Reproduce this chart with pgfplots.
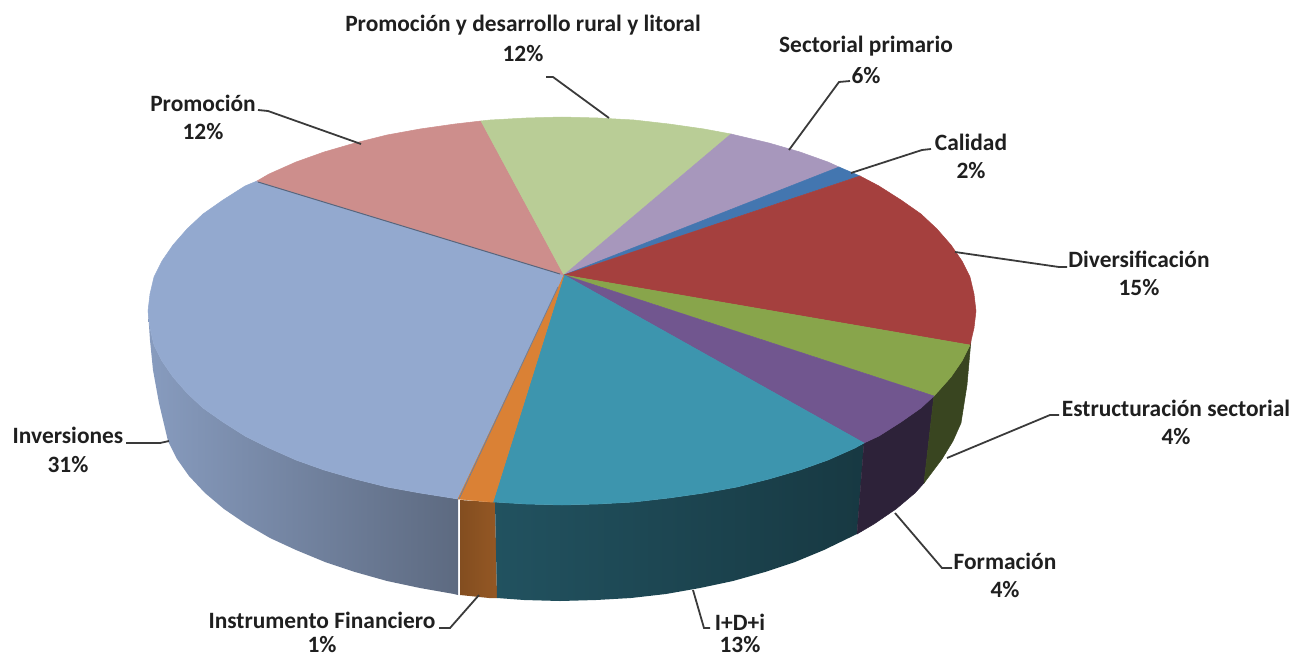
\documentclass[border=0pt]{standalone}
\usepackage{fontspec}
\setmainfont{Carlito}
\usepackage{pgfplots}
\pgfplotsset{compat=1.18}
\definecolor{cInv}{HTML}{93A9CF}
\definecolor{cPro}{HTML}{CD8E8C}
\definecolor{cRur}{HTML}{B9CD96}
\definecolor{cSec}{HTML}{A797BC}
\definecolor{cCal}{HTML}{4376B0}
\definecolor{cDiv}{HTML}{A5403E}
\definecolor{cEst}{HTML}{88A54B}
\definecolor{cFor}{HTML}{71568F}
\definecolor{cIDi}{HTML}{3D95AE}
\definecolor{cIns}{HTML}{DA8135}
\definecolor{lead}{HTML}{3A3A3A}
\newcommand{\lab}[3]{\node[font=\fontsize{23.5}{27}\selectfont\bfseries,text=black!88,align=center,inner sep=0pt] at (axis cs:#1,#2) {#3};}
\begin{document}
\begin{tikzpicture}
\useasboundingbox (0,0) rectangle (1294bp,659bp);
\begin{axis}[at={(0,0)},anchor=south west,scale only axis,width=1294bp,height=659bp,
  xmin=0,xmax=1294,ymin=0,ymax=659,y dir=reverse,hide axis,clip=true,
  every axis plot/.append style={line width=0.5pt}]
% ---- sides
\addplot[left color=cInv!92!black,right color=cInv!62!black!95!gray,draw=none] coordinates {(148,311)(150,340)(153,370)(159,403)(168,441)(177,459)(189,476)(205,493)(224,509)(246,524)(270,538)(296,550)(325,562)(355,572)(387,581)(420,588)(454,594)(458,595)(458,499)(420,493)(387,487)(355,479)(324,470)(296,460)(269,448)(245,436)(223,422)(203,408)(187,393)(173,377)(162,361)(154,345)(150,328)} -- cycle;
\addplot[left color=cIns!60!black,right color=cIns!68!black,draw=none] coordinates {(460,500)(460,595)(489,598)(497,598)(495,502)(490,502)} -- cycle;
\addplot[left color=cIDi!55!black,right color=cIDi!38!black,draw=none] coordinates {(495,502)(497,598)(524,600)(560,601)(596,600)(631,598)(666,594)(700,588)(733,581)(765,572)(795,562)(824,550)(857,534)(864,443)(855,448)(828,460)(800,470)(769,479)(737,487)(704,493)(669,498)(634,502)(598,504)(562,505)(526,504)} -- cycle;
\addplot[fill=cFor!40!black,draw=cFor!40!black] coordinates {(864,443)(857,534)(874,524)(896,509)(915,493)(924,483)(934,395)(921,408)(901,422)(879,436)} -- cycle;
\addplot[fill=cEst!42!black,draw=cEst!42!black] coordinates {(934,395)(924,483)(942,459)(953,441)(961,423)(967,385)(971,340)(970,345)(962,361)(951,377)(937,393)} -- cycle;
% ---- top
\addplot[fill=cInv,draw=cInv] coordinates {(564,275)(257,181)(245,186)(223,200)(203,214)(187,229)(173,245)(162,261)(154,277)(150,294)(148,311)(150,328)(154,345)(162,361)(173,377)(187,393)(203,408)(223,422)(245,436)(269,448)(296,460)(324,470)(355,479)(387,487)(420,493)(458,499)(559,286)} -- cycle;
\addplot[fill=cPro,draw=cPro] coordinates {(564,275)(481,121)(455,124)(420,129)(387,135)(355,143)(324,152)(296,162)(269,174)(257,181)} -- cycle;
\addplot[fill=cRur,draw=cRur] coordinates {(564,275)(731,134)(704,129)(669,124)(634,120)(598,118)(562,117)(526,118)(490,120)(481,121)} -- cycle;
\addplot[fill=cSec,draw=cSec] coordinates {(564,275)(839,167)(828,162)(800,152)(769,143)(731,134)} -- cycle;
\addplot[fill=cCal,draw=cCal] coordinates {(564,275)(860,176)(839,167)} -- cycle;
\addplot[fill=cDiv,draw=cDiv] coordinates {(564,275)(970,345)(974,328)(976,311)(974,294)(970,277)(962,261)(951,245)(937,229)(921,214)(901,200)(879,186)(860,176)} -- cycle;
\addplot[fill=cEst,draw=cEst] coordinates {(564,275)(934,396)(951,377)(962,361)(970,345)} -- cycle;
\addplot[fill=cFor,draw=cFor] coordinates {(564,275)(864,443)(879,436)(901,422)(921,408)(934,396)} -- cycle;
\addplot[fill=cIDi,draw=cIDi] coordinates {(564,275)(493,502)(526,504)(562,505)(598,504)(634,502)(669,498)(704,493)(737,487)(769,479)(800,470)(828,460)(855,448)(864,443)} -- cycle;
\addplot[fill=cIns,draw=cIns] coordinates {(564,275)(559,286)(458,499)(490,502)(493,502)} -- cycle;
\addplot[draw=cInv!60!black,line width=1pt] coordinates {(258,182)(560,274)};
\addplot[draw=cInv!75!black,line width=0.8pt] coordinates {(459,499)(558,287)};
% ---- leaders
\addplot[lead,line width=1.8pt] coordinates {(258,110)(268,111)(361,144)};
\addplot[lead,line width=1.8pt] coordinates {(546,77)(553,77)(609,118)};
\addplot[lead,line width=1.8pt] coordinates {(789,150)(839,82)(850,81)};
\addplot[lead,line width=1.8pt] coordinates {(851,173)(922,150)(931,149)};
\addplot[lead,line width=1.8pt] coordinates {(955,252)(1059,267)(1067,267)};
\addplot[lead,line width=1.8pt] coordinates {(947,458)(1050,415)(1059,415)};
\addplot[lead,line width=1.8pt] coordinates {(895,513)(942,568)(952,568)};
\addplot[lead,line width=1.8pt] coordinates {(693,590)(704,628)(710,628)};
\addplot[lead,line width=1.8pt] coordinates {(479,595)(450,628)(439,628)};
\addplot[lead,line width=1.8pt] coordinates {(169,441)(160,443)(126,443)};
% ---- labels
\lab{523}{25}{Promoción y desarrollo rural y litoral}
\lab{523}{54}{12\%}
\lab{866}{46}{Sectorial primario}
\lab{866}{76}{6\%}
\lab{971}{142}{Calidad}
\lab{971}{171}{2\%}
\lab{1139}{259}{Diversificación}
\lab{1139}{288}{15\%}
\lab{1176}{408}{Estructuración sectorial}
\lab{1176}{437}{4\%}
\lab{1005}{561}{Formación}
\lab{1005}{590}{4\%}
\lab{740}{622}{I+D+i}
\lab{740}{645}{13\%}
\lab{322}{620}{Instrumento Financiero}
\lab{322}{645}{1\%}
\lab{68}{435}{Inversiones}
\lab{68}{465}{31\%}
\lab{203}{103}{Promoción}
\lab{203}{132}{12\%}
\end{axis}
\end{tikzpicture}
\end{document}
